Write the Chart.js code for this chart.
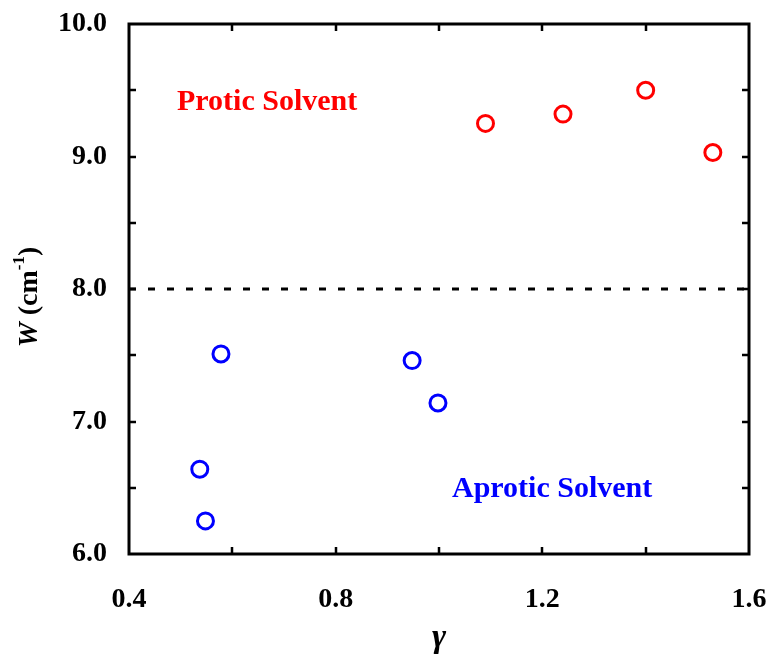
<!DOCTYPE html>
<html>
<head>
<meta charset="utf-8">
<script src="https://cdn.jsdelivr.net/npm/chart.js@4.4.1/dist/chart.umd.min.js"></script>
<style>
  html, body { margin: 0; padding: 0; background: #fff; }
  #wrap { width: 773px; height: 656px; }
</style>
</head>
<body>
<div id="wrap"><canvas id="pattern-chart"></canvas></div>
<script>
// gamma vs W values
const proticX = [1.09, 1.24, 1.40, 1.53];
const proticY = [9.25, 9.32, 9.50, 9.03];
const aproticX = [0.578, 0.537, 0.548, 0.948, 0.998];
const aproticY = [7.51, 6.64, 6.25, 7.46, 7.14];
const dividerY = 8.0;
const xRange = [0.4, 1.6];
const yRange = [6.0, 10.0];
const xTickLabels = [0.4, 0.8, 1.2, 1.6];
const yTickLabels = [6.0, 7.0, 8.0, 9.0, 10.0];

const FONT = '"Liberation Serif", "Times New Roman", serif';

function toPoints(xs, ys) {
  return xs.map((x, i) => ({ x: x, y: ys[i] }));
}

// frame, inward ticks, annotations, axis titles
const framePlugin = {
  id: 'frame',
  afterDraw(chart) {
    const ctx = chart.ctx;
    const a = chart.chartArea;
    const xs = chart.scales.x, ys = chart.scales.y;
    ctx.save();
    ctx.strokeStyle = '#000';
    ctx.lineWidth = 3;
    ctx.strokeRect(a.left, a.top, a.right - a.left, a.bottom - a.top);
    ctx.lineWidth = 2.5;
    const tl = 7;
    for (let v = xRange[0] + 0.2; v < xRange[1] - 0.01; v += 0.2) {
      const px = Math.round(xs.getPixelForValue(v));
      ctx.beginPath();
      ctx.moveTo(px, a.bottom); ctx.lineTo(px, a.bottom - tl);
      ctx.moveTo(px, a.top); ctx.lineTo(px, a.top + tl);
      ctx.stroke();
    }
    for (let v = yRange[0] + 0.5; v < yRange[1] - 0.01; v += 0.5) {
      const py = Math.round(ys.getPixelForValue(v));
      ctx.beginPath();
      ctx.moveTo(a.left, py); ctx.lineTo(a.left + tl, py);
      ctx.moveTo(a.right, py); ctx.lineTo(a.right - tl, py);
      ctx.stroke();
    }

    ctx.textBaseline = 'middle';
    ctx.textAlign = 'left';
    ctx.font = 'bold 30px ' + FONT;
    ctx.fillStyle = '#ff0000';
    ctx.fillText('Protic Solvent', 177, 102);
    ctx.fillStyle = '#0000ff';
    ctx.fillText('Aprotic Solvent', 452, 489);

    // x title
    ctx.fillStyle = '#000';
    ctx.textAlign = 'center';
    ctx.font = 'italic bold 34px ' + FONT;
    ctx.fillText('\u03B3', (a.left + a.right) / 2, 638);

    // y title: W (cm-1)
    ctx.translate(30, 297);
    ctx.rotate(-Math.PI / 2);
    ctx.textAlign = 'left';
    const parts = [
      { t: 'W', f: 'italic bold 28px ' + FONT, dy: 0 },
      { t: ' (cm', f: 'bold 28px ' + FONT, dy: 0 },
      { t: '-1', f: 'bold 17px ' + FONT, dy: -10 },
      { t: ')', f: 'bold 28px ' + FONT, dy: 0 }
    ];
    let total = 0;
    parts.forEach(p => { ctx.font = p.f; p.w = ctx.measureText(p.t).width; total += p.w; });
    let cx = -total / 2;
    parts.forEach(p => { ctx.font = p.f; ctx.fillText(p.t, cx, p.dy); cx += p.w; });
    ctx.restore();
  }
};

new Chart(document.getElementById('pattern-chart'), {
  type: 'scatter',
  data: {
    datasets: [
      {
        label: 'Protic Solvent',
        data: toPoints(proticX, proticY),
        borderColor: '#ff0000',
        backgroundColor: 'rgba(0,0,0,0)',
        borderWidth: 3,
        pointRadius: 8,
        pointHoverRadius: 8
      },
      {
        label: 'Aprotic Solvent',
        data: toPoints(aproticX, aproticY),
        borderColor: '#0000ff',
        backgroundColor: 'rgba(0,0,0,0)',
        borderWidth: 3,
        pointRadius: 8,
        pointHoverRadius: 8
      },
      {
        type: 'line',
        label: 'divider',
        data: xRange.map(x => ({ x: x, y: dividerY })),
        borderColor: '#000',
        borderWidth: 3,
        borderDash: [7, 12],
        pointRadius: 0,
        fill: false
      }
    ]
  },
  options: {
    responsive: true,
    maintainAspectRatio: false,
    animation: false,
    layout: { padding: { left: 0, right: 24, top: 24, bottom: 0 } },
    plugins: { legend: { display: false }, tooltip: { enabled: false } },
    scales: {
      x: {
        type: 'linear',
        min: xRange[0], max: xRange[1],
        grid: { display: false, drawTicks: false },
        border: { display: false },
        afterBuildTicks: s => { s.ticks = xTickLabels.map(v => ({ value: v })); },
        afterFit: s => { s.height = 102; s.paddingLeft = 0; s.paddingRight = 0; },
        ticks: {
          padding: 29,
          color: '#000',
          font: { family: FONT, size: 28, weight: 'bold' },
          callback: v => Number(v).toFixed(1)
        }
      },
      y: {
        type: 'linear',
        min: yRange[0], max: yRange[1],
        grid: { display: false, drawTicks: false },
        border: { display: false },
        afterBuildTicks: s => { s.ticks = yTickLabels.map(v => ({ value: v })); },
        afterFit: s => { s.width = 129; s.paddingTop = 0; s.paddingBottom = 0; },
        ticks: {
          padding: 22,
          color: '#000',
          font: { family: FONT, size: 28, weight: 'bold' },
          callback: v => Number(v).toFixed(1)
        }
      }
    }
  },
  plugins: [framePlugin]
});
</script>
</body>
</html>
